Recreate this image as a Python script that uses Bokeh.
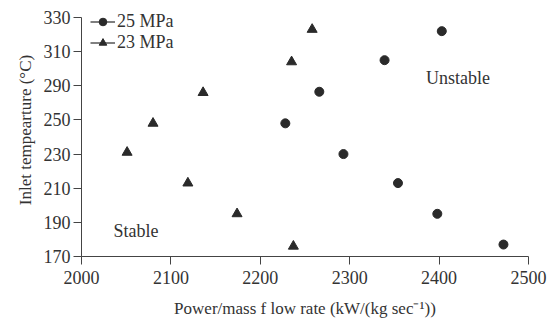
import numpy as np
from bokeh.plotting import figure
from bokeh.models import (Range1d, FixedTicker, Legend, LegendItem, ColumnDataSource, Label)
from bokeh.embed import file_html
from bokeh.resources import INLINE

# Data
p25_flow = [2403, 2339, 2266, 2228, 2293, 2354, 2398, 2472]
p25_temp = [322, 305, 283, 248, 230, 213, 195, 177]

p23_flow = [2258, 2235, 2136, 2080, 2051, 2119, 2174, 2237]
p23_temp = [323, 304, 282, 248, 231, 213, 195, 176]

x_ticks = [2000, 2100, 2200, 2300, 2400, 2500]
# printed y-axis labels (equally spaced on the axis as printed)
y_tick_labels = [170, 190, 210, 230, 250, 290, 310, 330]
y_tick_pos = list(range(len(y_tick_labels)))


def ypos(t):
    return np.interp(t, y_tick_labels, y_tick_pos)


FONT = "Liberation Serif"
TXT = "#333333"
MARK = "#2a2a2a"

p = figure(width=549, height=326, output_backend="svg", toolbar_location=None,
           x_range=Range1d(2000, 2500), y_range=Range1d(0, 7.41),
           min_border_left=81, min_border_right=21, min_border_top=3, min_border_bottom=70)
p.outline_line_color = None
p.xgrid.visible = False
p.ygrid.visible = False
p.background_fill_color = "white"

src25 = ColumnDataSource(dict(x=p25_flow, y=ypos(p25_temp)))
src23 = ColumnDataSource(dict(x=p23_flow, y=ypos(p23_temp)))

r25 = p.scatter("x", "y", source=src25, marker="circle", size=9, color=MARK)
r23 = p.scatter("x", "y", source=src23, marker="triangle", size=10, color=MARK)
l25 = p.line(x=[np.nan], y=[np.nan], line_color=MARK, line_width=1.2)
l23 = p.line(x=[np.nan], y=[np.nan], line_color=MARK, line_width=1.2)

legend = Legend(items=[LegendItem(label="25 MPa", renderers=[l25, r25]),
                       LegendItem(label="23 MPa", renderers=[l23, r23])],
                location=(9, 203), margin=0, padding=0, spacing=0,
                glyph_width=25, glyph_height=19, label_height=19, label_standoff=2,
                border_line_color=None, background_fill_alpha=0,
                label_text_font=FONT, label_text_font_size="18px", label_text_color=TXT)
p.add_layout(legend)

for ax in (p.xaxis[0], p.yaxis[0]):
    ax.axis_line_color = "#444444"
    ax.major_tick_line_color = "#444444"
    ax.major_tick_out = 8
    ax.major_tick_in = 0
    ax.minor_tick_line_color = None
    ax.major_label_text_font = FONT
    ax.major_label_text_font_size = "18px"
    ax.major_label_text_color = TXT
    ax.axis_label_text_font = FONT
    ax.axis_label_text_font_size = "17px"
    ax.axis_label_text_font_style = "normal"
    ax.axis_label_text_color = TXT

p.xaxis.ticker = FixedTicker(ticks=x_ticks)
p.xaxis.major_label_standoff = 6
p.xaxis.axis_label = "Power/mass f low rate (kW/(kg sec\u207b\u00b9))"
p.xaxis.axis_label_standoff = 12

p.yaxis.ticker = FixedTicker(ticks=y_tick_pos)
p.yaxis.bounds = (0, 7)
p.yaxis.major_label_overrides = {i: str(v) for i, v in zip(y_tick_pos, y_tick_labels)}
p.yaxis.major_label_standoff = 3
p.yaxis.axis_label = "Inlet tempearture (\u00b0C)"
p.yaxis.axis_label_standoff = 6

p.add_layout(Label(x=2421, y=ypos(294.8), text="Unstable", text_align="center",
                   text_baseline="middle", text_font=FONT, text_font_size="18px", text_color=TXT))
p.add_layout(Label(x=2061, y=ypos(185), text="Stable", text_align="center",
                   text_baseline="middle", text_font=FONT, text_font_size="18px", text_color=TXT))

open("out.html", "w").write(file_html(p, INLINE))
